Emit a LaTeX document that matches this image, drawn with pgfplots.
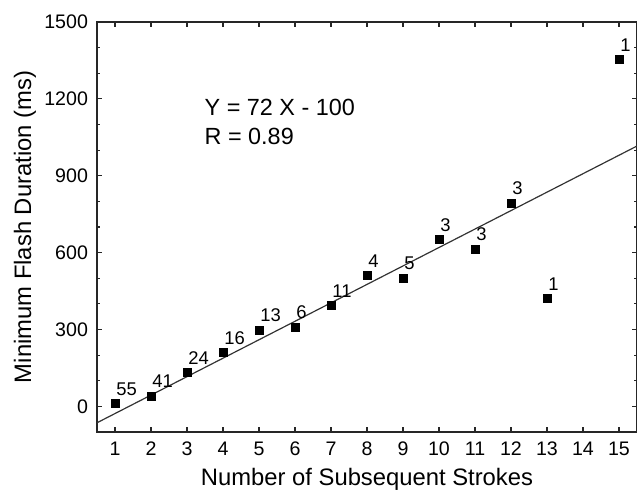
\documentclass[border=0pt]{standalone}
\usepackage{fontspec}
\setmainfont{Liberation Sans}
\usepackage{pgfplots}
\pgfplotsset{compat=1.18}
\begin{document}
\begin{tikzpicture}
\begin{axis}[
  scale only axis,
  width=270pt, height=205pt,
  xmin=0.5, xmax=15.5, ymin=-100, ymax=1500,
  xtick={1,...,15},
  ytick={0,300,600,900,1200,1500},
  minor y tick num=2,
  tick align=inside,
  tick pos=both,
  major tick length=2.6pt,
  minor tick length=1.6pt,
  axis line style={line width=0.8pt, black!85},
  every tick/.style={line width=0.6pt, black!85},
  /pgf/number format/assume math mode=true,
  /pgf/number format/1000 sep={},
  ticklabel style={font=\fontsize{9.8pt}{11pt}\selectfont},
  xticklabel style={yshift=-1.5pt},
  yticklabel style={xshift=-1pt},
  xlabel={Number of Subsequent Strokes},
  ylabel={Minimum Flash Duration (ms)},
  label style={font=\fontsize{11.9pt}{13pt}\selectfont},
  xlabel style={at={(axis description cs:0.5,0)}, anchor=center, yshift=-23.5pt},
  ylabel style={at={(axis description cs:0,0.5)}, anchor=center, yshift=36pt},
]
\addplot[black!80, line width=0.6pt] coordinates {(0.5,-64) (15.5,1016)};
\addplot[only marks, mark=square*, mark size=2pt, black,
  nodes near coords, point meta=explicit symbolic,
  every node near coord/.style={anchor=south west, inner sep=0pt, xshift=0.5pt, yshift=4pt,
    font=\fontsize{9.2pt}{10pt}\selectfont, text=black}]
  table[meta=n] {
x y n
1 10 55
2 40 41
3 131 24
4 209 16
5 296 13
6 309 6
7 393 11
8 510 4
9 501 5
10 650 3
11 612 3
12 793 3
13 420 1
15 1354 1
};
\node[anchor=west, inner sep=0pt, font=\fontsize{11.7pt}{13pt}\selectfont] at (axis cs:3.48,1165) {Y = 72 X - 100};
\node[anchor=west, inner sep=0pt, font=\fontsize{11.7pt}{13pt}\selectfont] at (axis cs:3.48,1052) {R = 0.89};
\end{axis}
\pgfresetboundingbox
\path[use as bounding box] ([xshift=-48.5pt,yshift=-33pt]current axis.south west) rectangle ([yshift=11pt]current axis.north east);
\end{tikzpicture}
\end{document}
